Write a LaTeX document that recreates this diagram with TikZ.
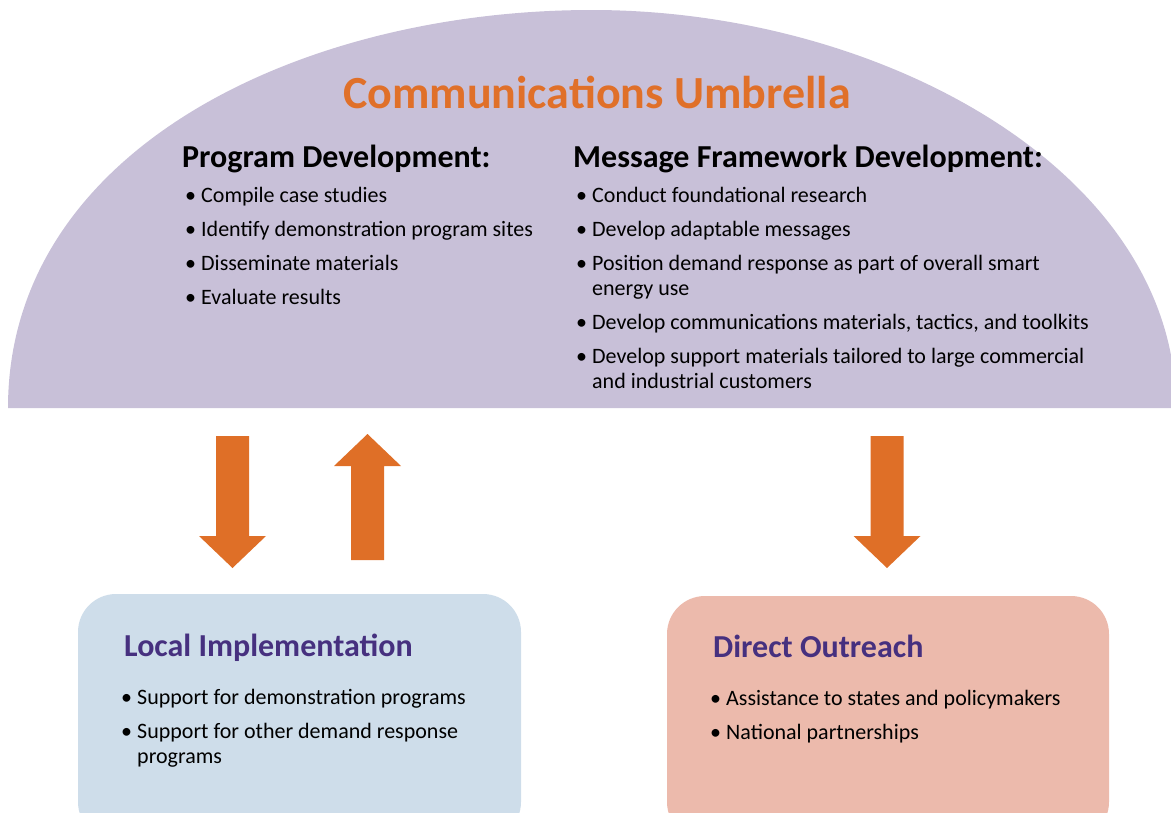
\documentclass[tikz,border=0pt]{standalone}
\usepackage{fontspec}
\setmainfont{Carlito}
\usetikzlibrary{positioning}

\definecolor{umbrellaLilac}{HTML}{C8C0D8}
\definecolor{umbrellaOrange}{HTML}{E07029}
\definecolor{arrowOrange}{HTML}{DF6F27}
\definecolor{localBlue}{HTML}{CEDDEA}
\definecolor{outreachPink}{HTML}{ECBAAC}
\definecolor{headPurple}{HTML}{46307F}

\newcommand{\bitem}{\makebox[16pt][l]{\textbullet}}
\newcommand{\bcont}{\hspace*{16pt}}

\begin{document}
\begin{tikzpicture}[x=1pt,y=-1pt,
  every node/.style={inner sep=0pt},
  title/.style={font=\fontsize{46}{50}\selectfont\bfseries,text=umbrellaOrange,anchor=base},
  colhead/.style={font=\fontsize{32}{36}\selectfont\bfseries,anchor=base west},
  blist/.style={font=\fontsize{22}{25}\selectfont,align=left,anchor=base west},
  boxhead/.style={font=\fontsize{32}{36}\selectfont\bfseries,text=headPurple,anchor=base west},
  fatarrow/.style={fill=arrowOrange},
  panel/.style={rounded corners=38pt}]
\def\sw{16.5}
\def\hw{33.5}
\def\hl{32}
\def\gap{9pt}

\useasboundingbox (0,0) rectangle (1171,812);
\clip (0,0) rectangle (1171,812);

% umbrella
\fill[umbrellaLilac] (8,408) .. controls (8,150) and (300,10) .. (592,10)
  .. controls (880,10) and (1176,170) .. (1176,408) -- cycle;

\node[title] (umbrella) at (597,108) {Communications Umbrella};

% lists sit on the baseline of their last line
\node[colhead] (progdev) at (182,167) {Program Development:};
\node[blist] (proglist) at (185,304) {\bitem Compile case studies\\[\gap]
  \bitem Identify demonstration program sites\\[\gap]
  \bitem Disseminate materials\\[\gap]
  \bitem Evaluate results};

\node[colhead] (msgdev) at (573,167) {Message Framework Development:};
\node[blist] (msglist) at (576,388) {\bitem Conduct foundational research\\[\gap]
  \bitem Develop adaptable messages\\[\gap]
  \bitem Position demand response as part of overall smart\\
  \bcont energy use\\[\gap]
  \bitem Develop communications materials, tactics, and toolkits\\[\gap]
  \bitem Develop support materials tailored to large commercial\\
  \bcont and industrial customers};

% arrows
\fill[fatarrow] (232.5-\sw,436) -- (232.5+\sw,436) -- (232.5+\sw,536) -- (232.5+\hw,536)
  -- (232.5,568) -- (232.5-\hw,536) -- (232.5-\sw,536) -- cycle;
\fill[fatarrow] (367.5-\sw,560) -- (367.5+\sw,560) -- (367.5+\sw,466) -- (367.5+\hw,466)
  -- (367.5,434) -- (367.5-\hw,466) -- (367.5-\sw,466) -- cycle;
\fill[fatarrow] (887-\sw,436) -- (887+\sw,436) -- (887+\sw,536) -- (887+\hw,536)
  -- (887,568) -- (887-\hw,536) -- (887-\sw,536) -- cycle;

% boxes
\fill[localBlue,panel] (78,594) rectangle (521,840);
\fill[outreachPink,panel] (667,596) rectangle (1109,840);

\node[boxhead] (localhead) at (124,656) {Local Implementation};
\node[blist] (locallist) at (121,763) {\bitem Support for demonstration programs\\[\gap]
  \bitem Support for other demand response\\
  \bcont programs};

\node[boxhead] (outhead) at (713,657) {Direct Outreach};
\node[blist] (outlist) at (710,739) {\bitem Assistance to states and policymakers\\[\gap]
  \bitem National partnerships};
\end{tikzpicture}
\end{document}
